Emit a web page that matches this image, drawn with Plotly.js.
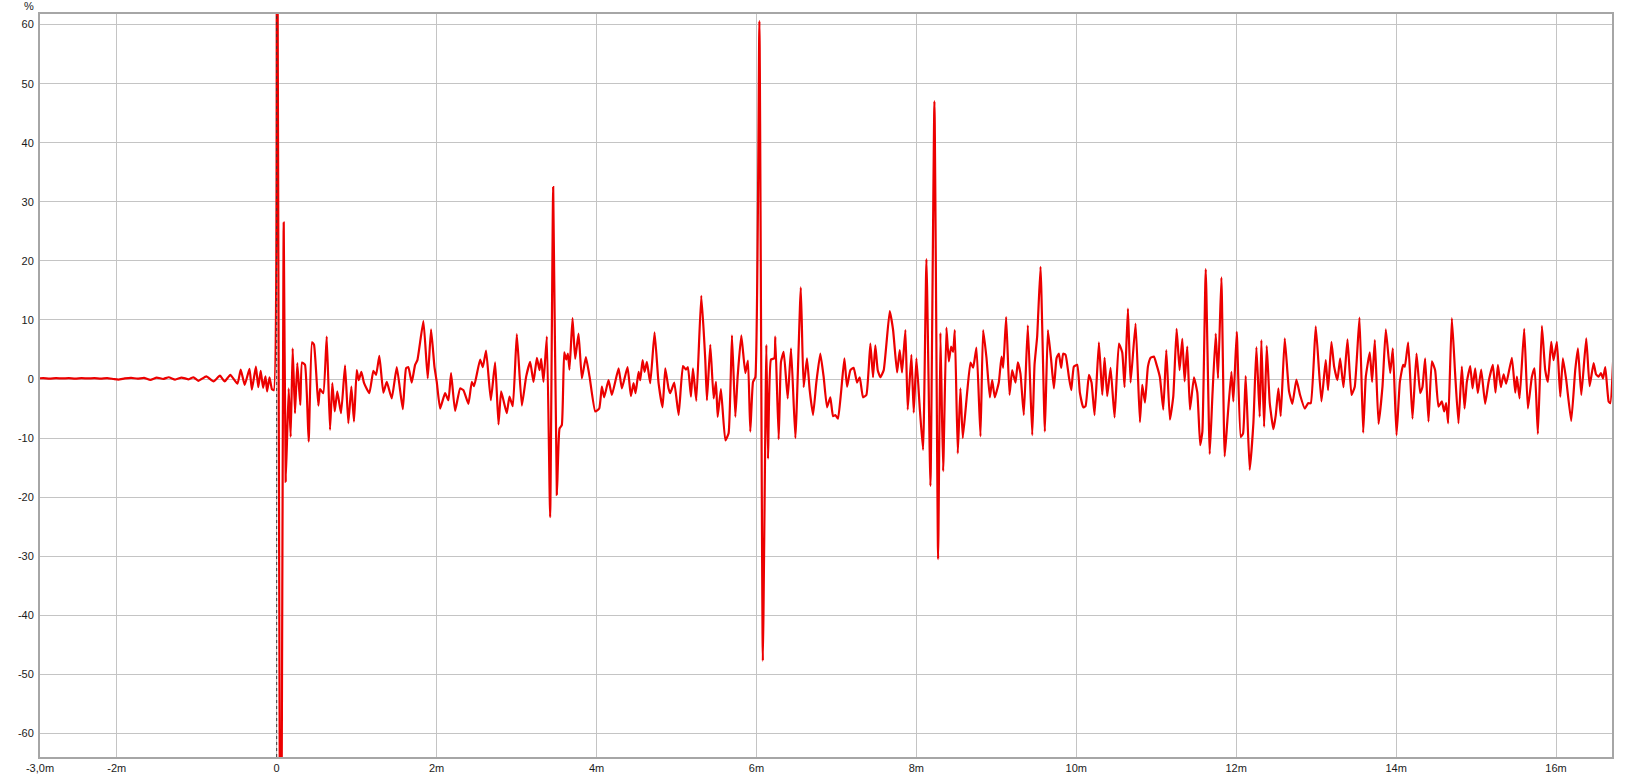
<!DOCTYPE html>
<html>
<head>
<meta charset="utf-8">
<script src="https://cdn.plot.ly/plotly-3.0.1.min.js"></script>
<style>
html,body{margin:0;padding:0;background:#fff;}
#chart{width:1632px;height:779px;}
</style>
</head>
<body>
<div id="chart"></div>
<script>
// Time axis in milliseconds, amplitude in percent
const timeMs = [
-3.00,-2.92,-2.84,-2.76,-2.68,-2.60,-2.52,-2.44,-2.36,-2.28,-2.20,-2.12,-2.04,-1.98,-1.90,-1.82,-1.74,-1.66,-1.58,-1.50,-1.42,-1.35,-1.27,-1.19,-1.10,-1.04,
-0.98,-0.88,-0.79,-0.71,-0.65,-0.58,-0.49,-0.45,-0.40,-0.34,-0.31,-0.26,-0.23,-0.20,-0.17,-0.14,-0.12,-0.09,-0.06,-0.035,
0.000,0.050,0.088,0.113,
0.150,0.175,0.200,0.229,0.258,0.295,0.317,0.354,0.400,0.442,0.467,0.521,0.542,0.583,0.626,0.667,0.696,0.726,0.758,0.805,0.855,0.896,0.934,0.967,1.001,1.026,1.059,1.093,1.159,1.209,1.243,1.284,1.334,1.377,1.439,1.502,1.577,
1.618,1.647,1.689,1.731,1.760,1.835,1.889,1.931,1.973,2.002,2.044,2.106,2.148,2.181,2.231,2.294,2.336,2.398,2.440,2.469,2.544,2.578,2.619,2.678,2.732,2.774,2.807,2.845,2.878,2.911,2.953,3.003,3.066,3.120,3.170,3.212,3.254,3.287,3.308,3.337,3.379,
3.420,3.458,3.504,3.537,3.566,3.596,3.621,3.642,3.662,3.700,3.733,3.775,3.817,3.867,3.913,3.984,4.034,4.067,4.096,4.150,4.192,4.276,4.317,4.388,4.430,4.463,4.488,4.526,4.547,4.576,4.601,4.630,4.672,4.726,4.776,4.826,4.860,4.901,4.922,4.972,5.027,5.081,5.118,5.143,5.181,5.206,5.248,
5.310,5.360,5.381,5.423,5.465,5.494,5.515,5.556,5.611,5.652,5.694,5.736,5.765,5.811,5.861,5.894,5.923,5.957,5.986,
6.037,6.080,6.124,6.145,6.182,6.224,6.236,6.278,6.307,6.341,6.391,6.433,6.487,6.555,
6.590,6.632,6.666,6.708,6.749,6.799,6.841,6.883,6.924,6.958,6.987,7.020,7.058,7.100,7.133,7.175,7.216,7.258,7.292,7.333,7.375,7.425,7.458,7.487,7.517,7.550,7.592,7.667,7.709,7.759,7.792,7.821,7.863,7.892,7.938,7.967,8.001,8.042,8.084,
8.126,8.176,8.226,8.272,8.301,8.335,8.376,8.406,8.435,8.460,8.481,8.518,8.551,8.581,8.635,8.677,8.710,8.752,8.802,8.835,8.877,8.919,8.948,8.981,9.031,9.065,9.086,9.123,9.165,9.198,9.240,9.269,9.302,9.344,9.394,9.449,9.478,9.511,9.553,9.607,9.645,9.686,9.720,9.753,9.782,9.811,9.836,9.866,9.907,9.937,9.970,
10.012,10.045,10.087,10.116,10.158,10.191,10.229,10.283,10.325,10.354,10.387,10.429,10.479,10.533,10.575,10.604,10.646,10.679,10.742,10.796,10.825,10.859,10.896,10.930,10.971,11.005,11.046,11.088,11.126,11.171,11.213,11.255,11.292,11.326,11.355,11.388,11.422,11.472,11.514,11.550,11.577,
11.619,11.669,11.702,11.744,11.773,11.815,11.856,11.890,11.940,11.965,12.007,12.057,12.086,12.119,12.169,12.215,12.253,12.294,12.315,12.349,12.382,12.420,12.465,12.495,12.528,12.557,12.607,12.661,12.703,12.753,12.799,12.858,12.899,12.933,12.995,13.066,13.120,13.149,13.191,13.225,13.266,13.300,13.342,13.392,13.442,13.483,13.542,13.588,13.621,13.671,13.700,13.734,13.780,13.830,13.871,13.926,13.959,14.005,14.047,14.088,14.109,14.151,14.205,14.255,
14.301,14.330,14.363,14.405,14.447,14.488,14.530,14.572,14.601,14.626,14.651,14.697,14.739,14.780,14.822,14.856,14.885,14.927,14.956,14.989,15.022,15.064,15.114,15.156,15.210,15.243,15.273,15.310,15.344,15.377,15.448,15.490,15.511,15.544,15.602,15.648,15.698,15.732,15.773,15.823,15.865,15.898,15.940,15.969,16.011,16.053,16.086,16.128,16.190,16.240,16.274,16.316,16.378,16.420,16.470,16.500,16.533,16.562,16.587,16.616,16.658,16.679,16.720
];
const amplitudePct = [
0.1,0.15,0.05,0.15,0.1,0.15,0.05,0.15,0.1,0.15,0.05,0.15,0.0,-0.1,0.1,0.2,0.05,0.2,-0.15,0.25,0.0,0.3,-0.1,0.25,-0.05,0.3,
-0.3,0.45,-0.4,0.56,-0.4,0.7,-0.8,1.6,-1.0,1.7,-1.8,2.1,-1.4,1.4,-1.5,0.45,-2.1,0.3,-1.7,-1.9,
110,-110,26.5,-17.4,
-1.6,-9.8,5.2,-5.8,2.7,-4.4,2.8,2.4,-10.6,6.2,5.8,-4.5,-1.7,-2.4,7.2,-8.6,-0.7,-5.5,-2.1,-5.8,2.3,-7.5,-1.3,-7.2,1.5,-0.2,1.2,-0.7,-2.4,1.4,0.7,3.9,-2.3,-0.5,-3.3,2.0,-5.1,
1.8,2.0,-0.6,2.4,3.2,9.8,0.1,8.4,2.1,-0.5,-5.0,-2.4,-3.6,1.0,-5.4,-1.6,-1.9,-4.2,-0.5,-1.2,3.3,2.0,4.8,-3.6,2.8,-7.7,-2.1,-4.1,-5.8,-3.0,-4.6,7.6,-4.5,0.4,2.9,-0.5,3.6,1.5,3.4,-0.5,7.2,
-23.4,32.5,-19.6,-8.4,-7.8,4.5,3.3,4.3,1.6,10.3,3.4,7.7,0.1,3.7,0.4,-5.5,-5.0,-1.3,-3.1,-0.2,-2.7,1.8,-1.6,2.0,-2.9,-0.7,-2.4,1.2,-0.2,3.2,1.2,2.9,-0.7,7.9,-0.7,-4.8,1.8,-1.6,-2.4,-0.6,-6.1,2.2,1.6,2.0,-3.0,1.8,-3.7,
14.1,3.3,-3.6,5.8,-3.3,-0.5,-6.4,-1.7,-10.4,-9.2,7.4,-6.4,0.4,7.4,1.0,3.1,-8.9,-0.5,0.3,
60.6,-47.7,5.8,-13.5,3.3,3.5,7.2,-10.2,2.9,4.6,-3.3,5.2,-10.0,15.5,
-1.4,3.5,-1.9,-6.1,-0.6,4.3,0.3,-4.8,-3.1,-6.3,-6.1,-6.7,-2.3,3.5,-1.3,1.5,1.9,-0.6,0.3,-3.1,-2.7,6.0,0.3,5.7,1.5,0.3,1.5,11.5,8.3,1.1,4.9,1.1,8.3,-5.2,4.1,-5.7,3.5,-4.8,-12.0,
20.3,-18.1,47.0,-30.5,7.8,-15.6,8.7,3.0,5.5,4.6,8.3,-12.6,-1.6,-10.0,-2.3,2.8,1.9,5.3,-9.7,8.3,3.6,-3.1,-0.2,-3.1,-0.6,3.8,1.9,10.5,-2.7,1.5,-0.6,2.8,0.9,-6.1,9.1,-9.5,2.4,7.2,19.0,-8.9,8.3,3.2,-1.6,3.5,4.3,1.9,4.3,4.1,0.4,-1.9,2.1,
2.4,-2.3,-4.8,-4.6,0.7,-0.6,-6.1,6.2,-2.7,3.6,-2.9,1.9,-6.5,6.0,4.5,-1.4,11.9,-0.6,9.4,-7.3,-1.0,-4.0,2.1,3.6,3.8,2.4,0.3,-5.2,4.9,-6.9,-3.0,8.5,1.5,6.8,-0.4,5.5,-5.2,0.3,-2.3,-11.2,-8.9,
18.6,-12.7,-3.0,7.7,0.1,17.2,-13.1,-7.0,1.2,-3.8,8.0,-9.8,-9.2,0.5,-15.4,-7.5,5.4,-6.4,6.6,-8.1,5.6,-4.1,-8.5,-6.1,-1.6,-6.3,6.9,-2.1,-4.2,-0.1,-2.7,-5.0,-4.1,-4.1,8.9,-3.8,3.2,-1.9,6.3,2.1,-0.2,3.5,-1.4,6.7,-2.7,-1.3,10.4,-9.1,0.4,4.5,-0.5,6.6,-7.6,-1.2,8.4,1.0,5.2,-9.5,-0.5,2.4,2.1,6.2,-6.7,4.3,
-2.4,-1.3,3.5,-7.2,3.0,1.5,-4.7,-3.8,-5.5,-4.1,-7.5,10.3,0.7,-7.5,2.1,-5.0,-0.5,2.2,-1.6,1.8,-2.4,1.6,-4.2,-0.5,2.4,-2.3,2.4,-1.4,0.8,-0.8,3.6,-2.3,0.4,-3.3,8.5,-5.0,0.4,1.8,-9.3,9.0,1.5,-0.5,6.3,3.2,6.3,-3.0,3.5,-0.2,-7.1,1.5,5.2,-2.7,6.9,-1.2,2.7,0.8,0.4,1.0,0.1,2.0,-3.8,-4.1,4.9
];

const xTickVals = [-2.96,-2,0,2,4,6,8,10,12,14,16,16.70];
const xTickText = ["-3,0m","-2m","0","2m","4m","6m","8m","10m","12m","14m","16m","16,7m s"];
const yTickVals = [-60,-50,-40,-30,-20,-10,0,10,20,30,40,50,60];
const yTickText = ["-60","-50","-40","-30","-20","-10","0","10","20","30","40","50","60"];

const trace = {
  x: timeMs, y: amplitudePct, type: 'scatter', mode: 'lines',
  line: {color: 'rgb(236,0,0)', width: 2.2, shape: 'spline', smoothing: 0.4},
  hoverinfo: 'skip'
};

const tickFont = {family: 'Liberation Sans, Arial, sans-serif', size: 11, color: '#1a1a1a'};

const layout = {
  width: 1632, height: 779,
  margin: {l: 40, r: 20, t: 14, b: 22, pad: 0},
  paper_bgcolor: '#ffffff', plot_bgcolor: '#ffffff',
  showlegend: false,
  xaxis: {
    range: [-2.96, 16.70], tickmode: 'array', tickvals: xTickVals, ticktext: xTickText,
    showgrid: true, gridcolor: '#c4c4c4', gridwidth: 1, zeroline: false,
    showline: true, linecolor: '#a6a6a6', linewidth: 2, mirror: true,
    ticks: '', tickfont: tickFont, ticklabelstandoff: 0, fixedrange: true
  },
  yaxis: {
    range: [-64.0, 61.8], tickmode: 'array', tickvals: yTickVals, ticktext: yTickText,
    showgrid: true, gridcolor: '#c4c4c4', gridwidth: 1, zeroline: false,
    showline: true, linecolor: '#a6a6a6', linewidth: 2, mirror: true,
    ticks: '', tickfont: tickFont, ticklabelstandoff: 2, fixedrange: true
  },
  shapes: [{
    type: 'line', xref: 'x', yref: 'paper', x0: 0, x1: 0, y0: 0, y1: 1,
    line: {color: '#3a3a3a', width: 1, dash: 'dot'}, layer: 'above'
  }],
  annotations: [{
    text: '%', xref: 'paper', yref: 'paper', x: 0, y: 1, xanchor: 'right', yanchor: 'bottom',
    xshift: -4, yshift: 0, showarrow: false, font: tickFont
  }]
};

Plotly.newPlot('chart', [trace], layout, {displayModeBar: false, staticPlot: true});
</script>
</body>
</html>
